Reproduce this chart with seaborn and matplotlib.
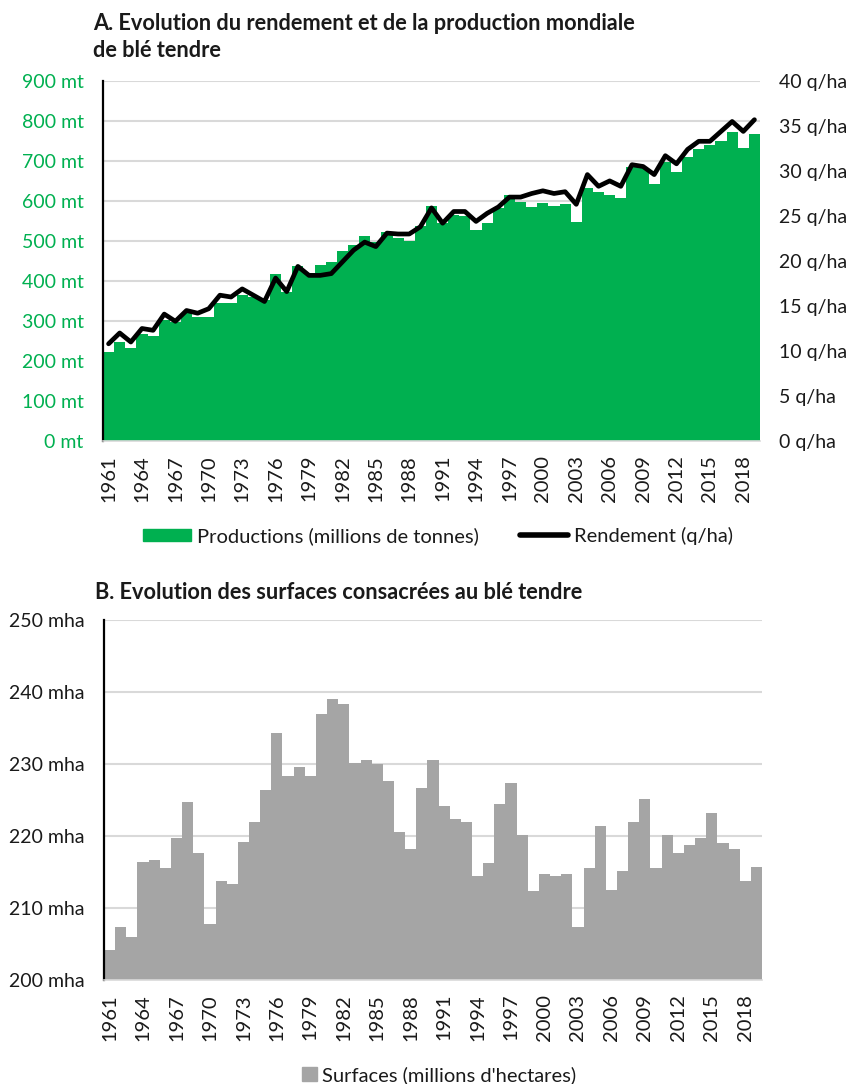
import numpy as np
import seaborn as sns
import matplotlib.pyplot as plt
from matplotlib.patches import Patch
from matplotlib.lines import Line2D
from matplotlib.ticker import FuncFormatter

sns.set_style('white')
plt.rcParams['font.family'] = ['Lato', 'DejaVu Sans']

years = list(range(1961, 2020))

# production mondiale de ble tendre (millions de tonnes)
production = [223, 248, 232, 268, 262, 302, 298, 320, 310, 310,
              346, 346, 366, 360, 353, 417, 373, 437, 419, 440,
              448, 476, 490, 512, 498, 523, 507, 500, 538, 588,
              544, 566, 562, 527, 545, 582, 615, 598, 586, 596,
              588, 592, 548, 632, 623, 615, 607, 684, 682, 643,
              698, 673, 711, 729, 740, 751, 773, 732, 767]

# rendement (q/ha)
rendement = [10.8, 12.0, 11.0, 12.5, 12.3, 14.1, 13.3, 14.5, 14.2, 14.7,
             16.2, 16.0, 16.9, 16.2, 15.5, 18.1, 16.6, 19.4, 18.4, 18.4,
             18.6, 19.9, 21.2, 22.1, 21.6, 23.1, 23.0, 23.0, 23.8, 25.9,
             24.2, 25.5, 25.5, 24.4, 25.3, 26.0, 27.1, 27.1, 27.5, 27.8,
             27.5, 27.7, 26.3, 29.6, 28.3, 28.9, 28.3, 30.7, 30.5, 29.6,
             31.7, 30.8, 32.4, 33.3, 33.3, 34.4, 35.5, 34.4, 35.7]

# surfaces (millions d'hectares)
surfaces = [204.1, 207.3, 206.0, 216.4, 216.7, 215.5, 219.7, 224.7, 217.7, 207.8,
            213.7, 213.4, 219.2, 221.9, 226.4, 234.3, 228.4, 229.6, 228.4, 237.0,
            239.0, 238.3, 230.1, 230.6, 230.0, 227.6, 220.5, 218.2, 226.6, 230.6,
            224.2, 222.4, 221.9, 214.4, 216.2, 224.4, 227.4, 220.2, 212.3, 214.7,
            214.4, 214.7, 207.3, 215.5, 221.4, 212.5, 215.2, 221.9, 225.1, 215.5,
            220.2, 217.7, 218.7, 219.7, 223.2, 219.0, 218.2, 213.8, 215.7]

GREEN = '#00B050'
GREY = '#A5A5A5'
TXT = '#1a1a1a'
GRID = '#d9d9d9'

W, H = 848, 1084
fig = plt.figure(figsize=(W / 100, H / 100), dpi=100)


def style_axis(ax, ylim, yticks, fmt, tickcolor):
    ax.set_xlim(1960.5, 2019.5)
    ax.set_ylim(*ylim)
    ax.set_yticks(yticks)
    ax.yaxis.set_major_formatter(FuncFormatter(fmt))
    ax.set_xticks(years[::3])
    ax.set_xticklabels([str(y) for y in years[::3]], rotation=90)
    ax.tick_params(axis='x', length=0, pad=10, labelsize=14.5, labelcolor=TXT)
    ax.tick_params(axis='y', length=0, pad=14, labelsize=14, labelcolor=tickcolor)
    ax.set_axisbelow(True)
    ax.yaxis.grid(True, color=GRID, lw=1.5)
    ax.xaxis.grid(False)
    for s in ['top', 'right']:
        ax.spines[s].set_visible(False)
    ax.spines['left'].set_color('black')
    ax.spines['left'].set_linewidth(1.6)
    ax.spines['bottom'].set_color(GRID)
    ax.spines['bottom'].set_linewidth(1.2)
    ax.set_xlabel('')
    ax.set_ylabel('')


# ---- A. production + rendement
ax = fig.add_axes([103 / W, 1 - 441 / H, 657 / W, 360 / H])
sns.barplot(x=years, y=production, native_scale=True, width=1.0,
            color=GREEN, saturation=1, linewidth=0, ax=ax)
style_axis(ax, (0, 900), range(0, 901, 100), lambda v, p: f'{v:.0f} mt', GREEN)

ax2 = ax.twinx()
sns.lineplot(x=years, y=rendement, color='black', lw=3.4, ax=ax2, legend=False)
ax2.set_ylim(0, 40)
ax2.set_yticks(range(0, 41, 5))
ax2.yaxis.set_major_formatter(FuncFormatter(lambda v, p: f'{v:.0f} q/ha'))
ax2.tick_params(axis='y', length=0, pad=14, labelsize=14, labelcolor=TXT)
ax2.set_ylabel('')
ax2.grid(False)
for s in ax2.spines.values():
    s.set_visible(False)
ax2.set_xlim(1960.5, 2019.5)

fig.text(93 / W, 1 - 30 / H, 'A. Evolution du rendement et de la production mondiale',
         fontsize=15.7, fontweight='bold', color=TXT, va='baseline')
fig.text(93 / W, 1 - 57 / H, 'de blé tendre',
         fontsize=15.7, fontweight='bold', color=TXT, va='baseline')

handles = [Patch(color=GREEN), Line2D([], [], color='black', lw=4)]
fig.legend(handles, ['Productions (millions de tonnes)', 'Rendement (q/ha)'],
           loc='center', bbox_to_anchor=(438 / W, 1 - 536 / H), ncol=2,
           frameon=False, fontsize=14.5, handlelength=2.4, handleheight=0.55,
           handletextpad=0.3, columnspacing=2.0, labelcolor=TXT)

# ---- B. surfaces
axb = fig.add_axes([104 / W, 1 - 980 / H, 658 / W, 360 / H])
sns.barplot(x=years, y=surfaces, native_scale=True, width=1.0,
            color=GREY, saturation=1, linewidth=0, ax=axb)
style_axis(axb, (200, 250), range(200, 251, 10), lambda v, p: f'{v:.0f} mha', TXT)

fig.text(95 / W, 1 - 599 / H, 'B. Evolution des surfaces consacrées au blé tendre',
         fontsize=15.7, fontweight='bold', color=TXT, va='baseline')

fig.legend([Patch(color=GREY)], ["Surfaces (millions d'hectares)"],
           loc='center', bbox_to_anchor=(439 / W, 1 - 1075 / H),
           frameon=False, fontsize=14.5, handlelength=0.75, handleheight=0.75,
           handletextpad=0.2, labelcolor=TXT)

fig.savefig('out.png', dpi=100)
